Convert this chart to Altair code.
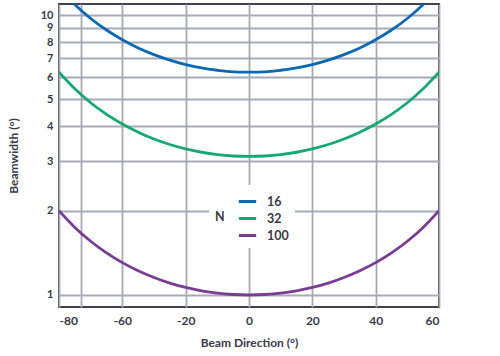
import altair as alt
import pandas as pd

# Beam direction (degrees, true scale position) and beamwidth readings
angles = [-60, -55, -50, -45, -40, -35, -30, -25, -20, -15, -10, -5, 0,
          5, 10, 15, 20, 25, 30, 35, 40, 45, 50, 55, 60]
bw_16 = [12.5, 10.90, 9.72, 8.84, 8.16, 7.63, 7.22, 6.90, 6.65, 6.47, 6.35, 6.27, 6.25,
         6.27, 6.35, 6.47, 6.65, 6.90, 7.22, 7.63, 8.16, 8.84, 9.72, 10.90, 12.5]
bw_32 = [6.25, 5.45, 4.86, 4.42, 4.08, 3.815, 3.608, 3.448, 3.326, 3.235, 3.173, 3.137, 3.125,
         3.137, 3.173, 3.235, 3.326, 3.448, 3.608, 3.815, 4.08, 4.42, 4.86, 5.45, 6.25]
bw_100 = [2.0, 1.743, 1.556, 1.414, 1.305, 1.221, 1.155, 1.103, 1.064, 1.035, 1.015, 1.004, 1.0,
          1.004, 1.015, 1.035, 1.064, 1.103, 1.155, 1.221, 1.305, 1.414, 1.556, 1.743, 2.0]

series_names = ["16", "32", "100"]
series_colors = ["#0a68b4", "#16a873", "#7a3b95"]

x_tick_values = [-60, -53, -40, -20, 0, 20, 40, 60]
x_tick_labels = ["-80", "", "-60", "-20", "0", "20", "40", "60"]
y_tick_values = [1, 2, 3, 4, 5, 6, 7, 8, 9, 10]

rows = []
for name, vals in zip(series_names, [bw_16, bw_32, bw_100]):
    for a, v in zip(angles, vals):
        rows.append({"angle": a, "bw": v, "N": name})
df = pd.DataFrame(rows)

label_expr = ""
for v, l in zip(x_tick_values, x_tick_labels):
    label_expr += f"datum.value == {v} ? '{l}' : "
label_expr += "datum.label"

FONT = "Lato"
TXT = "#3a3a48"
GRID = "#a8a8b8"

chart = alt.Chart(df).mark_line(strokeWidth=2.8, clip=True, interpolate="monotone").encode(
    x=alt.X("angle:Q",
            scale=alt.Scale(domain=[-60, 60], nice=False, zero=False),
            axis=alt.Axis(values=x_tick_values, labelExpr=label_expr,
                          title="Beam Direction (°)", ticks=False, domain=False,
                          gridColor=GRID, gridWidth=1.8, labelPadding=8,
                          titlePadding=11)),
    y=alt.Y("bw:Q",
            scale=alt.Scale(type="log", domain=[0.906, 10.95], nice=False),
            axis=alt.Axis(values=y_tick_values, format="d",
                          title="Beamwidth (°)", ticks=False, domain=False,
                          gridColor=GRID, gridWidth=1.8, labelPadding=6,
                          labelFontSize=11, titlePadding=20)),
    color=alt.Color("N:N",
                    scale=alt.Scale(domain=series_names, range=series_colors),
                    sort=series_names,
                    legend=alt.Legend(orient="none", legendX=150, legendY=181,
                                      titleOrient="left", symbolType="stroke",
                                      symbolStrokeWidth=3, symbolSize=300,
                                      fillColor="white", padding=6,
                                      titleAnchor="middle", titleBaseline="middle",
                                      labelFontSize=12.5, titleFontSize=12.5,
                                      labelFont=FONT, titleFont=FONT,
                                      labelColor=TXT, titleColor=TXT,
                                      labelFontWeight="bold", titleFontWeight="bold",
                                      labelOffset=9,
                                      rowPadding=-2, titlePadding=12)),
).properties(
    width=380, height=303,
    autosize=alt.AutoSizeParams(type="none"),
    padding={"left": 59, "top": 4, "right": 61, "bottom": 49},
).configure_view(
    stroke="#404050", strokeWidth=2
).configure_axis(
    labelFont=FONT, titleFont=FONT, labelFontSize=12, titleFontSize=12,
    labelFontWeight="bold", titleFontWeight="bold",
    labelColor=TXT, titleColor=TXT,
)

chart.save("out.html", embed_options={"renderer": "svg", "actions": False})
